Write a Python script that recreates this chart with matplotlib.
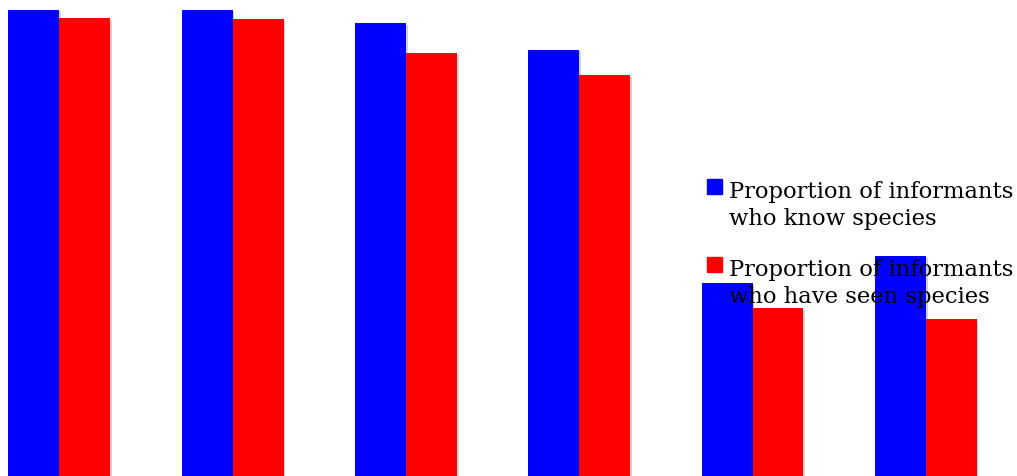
import matplotlib.pyplot as plt
import matplotlib.patheffects as pe
from matplotlib.patches import Rectangle
import numpy as np

# proportion of informants per species group (6 groups)
know = [0.980, 0.979, 0.951, 0.896, 0.405, 0.462]
seen = [0.962, 0.960, 0.889, 0.842, 0.353, 0.330]
labels = ['Proportion of informants\nwho know species',
          'Proportion of informants\nwho have seen species']
colors = ['#0000ff', '#ff0000']

W, H = 1017, 476
fig = plt.figure(figsize=(W/100, H/100), dpi=100)
ax = fig.add_axes([0, 0, 1, 1])

x = np.arange(len(know))
w = 0.294
shadow = [pe.SimplePatchShadow(offset=(1.2, -1.2), shadow_rgbFace='gray', alpha=0.35), pe.Normal()]
for vals, off, c in [(know, -w/2, colors[0]), (seen, w/2, colors[1])]:
    bars = ax.bar(x + off, vals, w, color=c, linewidth=0)
    for b in bars:
        b.set_path_effects(shadow)

ax.set_xlim(-0.342, 5.526)
ax.set_ylim(0, 1)
ax.axis('off')

# legend drawn in pixel coordinates on the figure
for i, (lab, c) in enumerate(zip(labels, colors)):
    top = 179 + i*78
    fig.add_artist(Rectangle((707/W, 1 - (top+15)/H), 15/W, 15/H,
                             transform=fig.transFigure, color=c, zorder=5))
    # baseline of the second line of the label
    fig.text(729/W, 1 - (225 + i*78)/H, lab, family='DejaVu Serif', fontsize=16.3,
             va='baseline', ha='left', linespacing=1.28, zorder=6)

fig.savefig('out.png', dpi=100)
